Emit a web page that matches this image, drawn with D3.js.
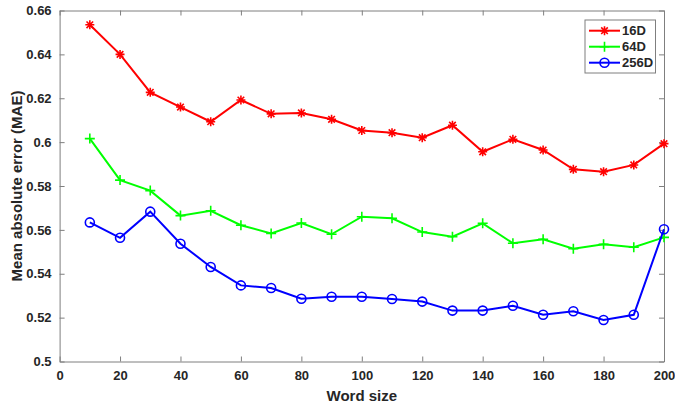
<!DOCTYPE html>
<html><head><meta charset="utf-8">
<script src="https://cdn.jsdelivr.net/npm/d3@7"></script>
<style>body{margin:0;background:#fff;} text{font-family:"Liberation Sans",Arial,sans-serif;font-weight:bold;}</style>
</head><body><svg id="c" width="675" height="409"></svg>
<script>
const wordSizes = [10,20,30,40,50,60,70,80,90,100,110,120,130,140,150,160,170,180,190,200];
const mae16D = [0.6535,0.6400,0.6227,0.6160,0.6093,0.6192,0.6129,0.6133,0.6104,0.6053,0.6043,0.6020,0.6077,0.5956,0.6013,0.5964,0.5876,0.5865,0.5896,0.5993];
const mae64D = [0.6016,0.5827,0.5779,0.5665,0.5687,0.5621,0.5584,0.5631,0.5580,0.5660,0.5653,0.5590,0.5569,0.5630,0.5539,0.5557,0.5514,0.5534,0.5521,0.5566];
const mae256D = [0.5634,0.5564,0.5683,0.5537,0.5431,0.5347,0.5335,0.5286,0.5295,0.5295,0.5285,0.5273,0.5232,0.5232,0.5254,0.5213,0.5229,0.5189,0.5213,0.5603];
const seriesNames = ["16D","64D","256D"];
const xTicks = [0,20,40,60,80,100,120,140,160,180,200];
const yTicks = [0.5,0.52,0.54,0.56,0.58,0.6,0.62,0.64,0.66];

const svg = d3.select("#c");
const L=59.6, R=664, T=10.5, B=361.5;
const x = d3.scaleLinear().domain([0,200]).range([L,R]);
const y = d3.scaleLinear().domain([0.5,0.66]).range([B,T]);
const axisCol = "#7f7f7f";

const series = [
  {name:seriesNames[0], vals:mae16D, color:"#ff0000", marker:"star"},
  {name:seriesNames[1], vals:mae64D, color:"#00ff00", marker:"plus"},
  {name:seriesNames[2], vals:mae256D, color:"#0000ff", marker:"circle"}
];

// axes
const fmt = d => String(+d.toFixed(2));
const gx = svg.append("g").attr("transform",`translate(0,${B})`)
  .call(d3.axisBottom(x).tickValues(xTicks).tickSizeInner(-5).tickSizeOuter(0).tickPadding(9).tickFormat(d=>d));
const gxt = svg.append("g").attr("transform",`translate(0,${T})`)
  .call(d3.axisTop(x).tickValues(xTicks).tickSizeInner(-5).tickSizeOuter(0).tickFormat(""));
const gy = svg.append("g").attr("transform",`translate(${L},0)`)
  .call(d3.axisLeft(y).tickValues(yTicks).tickSizeInner(-5).tickSizeOuter(0).tickPadding(8).tickFormat(fmt));
const gyr = svg.append("g").attr("transform",`translate(${R},0)`)
  .call(d3.axisRight(y).tickValues(yTicks).tickSizeInner(-5).tickSizeOuter(0).tickFormat(""));
[gx,gxt,gy,gyr].forEach(g=>{
  g.selectAll("path").attr("stroke",axisCol).attr("stroke-width",1);
  g.selectAll("line").attr("stroke",axisCol);
  g.selectAll("text").attr("fill","#262626").style("font-size","13px").style("font-family","'Liberation Sans',Arial,sans-serif").style("font-weight","bold");
});

svg.append("text").attr("x",(L+R)/2).attr("y",401).attr("text-anchor","middle")
  .style("font-size","15px").attr("fill","#262626").text("Word size");
svg.append("text").attr("transform",`translate(22,${(T+B)/2}) rotate(-90)`).attr("text-anchor","middle")
  .style("font-size","15px").attr("fill","#262626").text("Mean absolute error (MAE)");

function drawMarker(g, type, cx, cy, color){
  if(type==="circle"){
    g.append("circle").attr("cx",cx).attr("cy",cy).attr("r",4.5).attr("fill","none").attr("stroke",color).attr("stroke-width",1.6);
  } else if(type==="plus"){
    g.append("path").attr("d",`M${cx-5},${cy}H${cx+5}M${cx},${cy-5}V${cy+5}`).attr("stroke",color).attr("stroke-width",1.6);
  } else {
    const r=4.5, d=3.3;
    g.append("path").attr("d",`M${cx-r},${cy}H${cx+r}M${cx},${cy-r}V${cy+r}M${cx-d},${cy-d}L${cx+d},${cy+d}M${cx-d},${cy+d}L${cx+d},${cy-d}`).attr("stroke",color).attr("stroke-width",1.6);
  }
}

const line = d3.line().x(d=>x(d[0])).y(d=>y(d[1]));
series.forEach(s=>{
  const pts = wordSizes.map((w,i)=>[w,s.vals[i]]);
  svg.append("path").datum(pts).attr("d",line).attr("fill","none").attr("stroke",s.color).attr("stroke-width",2);
  const g = svg.append("g");
  pts.forEach(p=>drawMarker(g,s.marker,x(p[0]),y(p[1]),s.color));
});

// legend
const lg = svg.append("g");
lg.append("rect").attr("x",585).attr("y",20).attr("width",70.5).attr("height",53).attr("fill","#fff").attr("stroke","#7f7f7f").attr("stroke-width",1);
series.forEach((s,i)=>{
  const yy = 30.7 + i*16;
  lg.append("line").attr("x1",589).attr("x2",620).attr("y1",yy).attr("y2",yy).attr("stroke",s.color).attr("stroke-width",2);
  drawMarker(lg,s.marker,604.5,yy,s.color);
  lg.append("text").attr("x",622).attr("y",yy+4.5).style("font-size","13px").attr("fill","#262626").text(s.name);
});
</script></body></html>
